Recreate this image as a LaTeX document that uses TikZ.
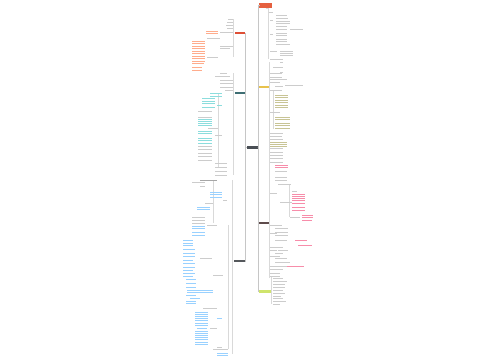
\documentclass[tikz,border=0pt]{standalone}
\usepackage{tikz}
\tikzset{>=stealth}
\definecolor{rootgray}{HTML}{4A4F55}
\definecolor{topred}{HTML}{E5603F}
\definecolor{branchred}{HTML}{DE4F36}
\definecolor{branchteal}{HTML}{3E6E73}
\definecolor{branchdark}{HTML}{55585C}
\definecolor{branchyellow}{HTML}{E8C24C}
\definecolor{branchbrown}{HTML}{5E4B4B}
\definecolor{branchlime}{HTML}{CFE46C}
\tikzset{
  mainbox/.style={rectangle, inner sep=0pt, minimum height=2.5pt},
  conn/.style={draw=gray!45, line width=0.4pt},
  spine/.style={draw=gray!30, line width=0.3pt},
  rowgray/.style={draw=gray!40, line width=0.7pt},
  rowred/.style={draw=red!45!orange!45, line width=0.7pt},
  rowteal/.style={draw=teal!60!cyan!45, line width=0.7pt},
  rowblue/.style={draw=blue!45!cyan!40, line width=0.7pt},
  rowmag/.style={draw=magenta!60!red!45, line width=0.7pt},
  rowolive/.style={draw=olive!50!gray!50, line width=0.7pt}
}

\begin{document}
\begin{tikzpicture}[x=1pt,y=-1pt]
\fill[white] (0,0) rectangle (500,360);
\useasboundingbox (0,0) rectangle (500,360);

% root and main branches
\node[mainbox, fill=rootgray, minimum width=11pt, minimum height=2.5pt] (root) at (252,147.5) {};
\node[mainbox, fill=topred, minimum width=13pt, minimum height=5pt] (rtitle) at (265.5,5.5) {};
\node[mainbox, fill=branchred, minimum width=10pt] (lred) at (239.5,33) {};
\node[mainbox, fill=branchteal, minimum width=10pt, minimum height=2pt] (lteal) at (239.5,92.5) {};
\node[mainbox, fill=branchdark, minimum width=11pt, minimum height=2pt] (ldark) at (239,261) {};
\node[mainbox, fill=branchyellow, minimum width=10pt] (ryellow) at (263.5,87) {};
\node[mainbox, fill=branchbrown, minimum width=10pt, minimum height=2pt] (rbrown) at (263.5,223) {};
\node[mainbox, fill=branchlime, minimum width=12pt, minimum height=3pt] (rlime) at (264.5,291) {};

% connectors from the root
\draw[conn] (root.west) -- ++(-0.8,0) |- (lred.east);
\draw[conn] (root.west) -- ++(-0.8,0) |- (lteal.east);
\draw[conn] (root.west) -- ++(-0.8,0) |- (ldark.east);
\draw[conn] (root.east) -- ++(0.8,0) |- (rtitle.west);
\draw[conn] (root.east) -- ++(0.8,0) |- (ryellow.west);
\draw[conn] (root.east) -- ++(0.8,0) |- (rbrown.west);
\draw[conn] (root.east) -- ++(0.8,0) |- (rlime.west);

% spines of the sub branches
\draw[spine] (lred.west) -- ++(-1,0) coordinate (lredk);
\draw[spine] (lredk |- 0,19) -- (lredk |- 0,57);
\draw[spine] (lteal.west) -- ++(-1,0) coordinate (ltealk);
\draw[spine] (ltealk |- 0,73) -- (ltealk |- 0,175);
\draw[spine] (ldark.west) -- ++(-1,0) coordinate (ldarkk);
\draw[spine] (ldarkk |- 0,180) -- (ldarkk |- 0,354);
\draw[spine] (rtitle.south) -- ++(3,0) coordinate (rtitlek);
\draw[spine] (rtitlek) -- (rtitlek |- 0,59);
\draw[spine] (ryellow.east) -- ++(0.5,0) coordinate (ryellowk);
\draw[spine] (ryellowk |- 0,62) -- (ryellowk |- 0,168);
\draw[spine] (rbrown.east) -- ++(0.5,0) coordinate (rbrownk);
\draw[spine] (rbrownk |- 0,167) -- (rbrownk |- 0,278);
\draw[spine] (rlime.east) -- ++(0.8,0) coordinate (rlimek);
\draw[spine] (rlimek |- 0,276) -- (rlimek |- 0,304);
\draw[spine] (218.5,93) -- (218.5,167);
\draw[spine] (213.5,180) -- (213.5,223);
\draw[spine] (228.5,225) -- (228.5,349);
\draw[spine] (289.5,184) -- (289.5,217);
\draw[spine] (273.5,90) -- (273.5,129);

% rows of small text (left, red branch)
\foreach \x/\y/\w in {228/19/5, 227/22/6, 226/25/7, 227/28/6, 220/32.5/13, 207/38/13, 220/46/13, 220/48.5/10, 207/57/11}
  \draw[rowgray] (\x,\y) -- ++(\w,0);
\foreach \x/\y/\w in {206/31/12, 206/33.5/12, 192/41/13, 192/43.5/13, 192/46/13, 192/48.5/13, 192/51/13, 192/53.5/13, 192/56/13, 192/58.5/13, 192/61/13, 192/63.5/12, 192/67/10, 192/70/10}
  \draw[rowred] (\x,\y) -- ++(\w,0);

% rows of small text (left, teal branch)
\foreach \x/\y/\w in {220/73/7, 215/76/15, 220/80/13, 220/83/13, 220/87/13, 225/90/8, 198/111/14, 198/117/14, 208/128/10, 215/135/7, 198/146/14, 198/149/14, 198/153/14, 198/156/14, 198/160/14, 215/163/12, 215/167/12, 215/171/12, 215/175/12}
  \draw[rowgray] (\x,\y) -- ++(\w,0);
\foreach \x/\y/\w in {210/93.5/12, 210/96/12, 202/98.5/13, 202/101/13, 202/103.5/13, 217/105/5, 202/107/13, 198/119.5/14, 198/121.5/14, 198/123.5/14, 198/125.5/14, 198/131/14, 198/133.5/14, 198/138/14, 198/140.5/14, 198/143/14}
  \draw[rowteal] (\x,\y) -- ++(\w,0);

% rows of small text (left, dark branch)
\draw[rowgray, draw=gray!70] (200,180) -- ++(17,0);
\foreach \x/\y/\w in {192/182.5/13, 200/186/5, 223/200/4, 205/203/8, 192/217/13, 192/220/13, 192/223/13, 207/225/10, 200/258/12, 213/275/10, 203/308/14, 210/328/7, 217/347/5, 213/349/15}
  \draw[rowgray] (\x,\y) -- ++(\w,0);
\foreach \x/\y/\w in {210/192/12, 210/194.5/12, 210/197/12, 197/207/13, 197/209.5/13, 192/226/13, 192/228.5/13, 192/232/13, 192/235/13, 183/240/10, 183/243/10, 183/245.5/10, 183/249/12, 183/253/12, 183/256.5/12, 183/260/10, 183/263/12, 183/267/12, 183/270/10, 183/273/12, 183/276/10, 186/279.5/10, 186/283/10, 186/287/10, 187/290/13, 200/290/13, 187/292.5/13, 200/292.5/13, 186/295.5/10, 190/298.5/10, 186/301/10, 186/303.5/10, 195/312/13, 195/314/13, 195/316/13, 195/318/13, 217/318/5, 195/320.5/13, 195/323/13, 195/325.5/13, 197/328/10, 195/331/13, 195/333/13, 195/335/13, 195/337/13, 195/339.5/13, 195/342/13, 195/344.5/13, 217/353/11, 217/355.5/11}
  \draw[rowblue] (\x,\y) -- ++(\w,0);

% rows of small text (right, title branch)
\foreach \x/\y/\w in {269/12/4, 276/15/11, 276/18/12, 270/20/3, 276/21/14, 276/23.5/14, 276/26/11, 276/29/11, 290/29/13, 270/34/3, 276/33/11, 276/35.5/11, 276/39/11, 276/41.5/11, 276/44.5/14, 270/51/7, 280/51/13, 280/53/13, 280/55/13, 270/59/13}
  \draw[rowgray] (\x,\y) -- ++(\w,0);

% rows of small text (right, yellow branch)
\foreach \x/\y/\w in {280/62/3, 273/67/10, 280/72/3, 270/73/12, 270/77/12, 270/79.5/17, 270/82/10, 275/86/8, 285/85/18, 270/90/12, 270/112/10, 270/133/13, 270/136/12, 270/139/13, 270/148/13, 270/152/13, 270/155/13, 270/158/13, 270/162/13}
  \draw[rowgray] (\x,\y) -- ++(\w,0);
\foreach \x/\y/\w in {275/95/13, 275/97.5/13, 275/100/13, 275/102.5/13, 275/105/13, 275/107.5/13, 275/117/15, 275/119.5/15, 275/123/15, 275/125.5/15, 275/128/15, 270/142/17, 270/144/17, 270/146/17}
  \draw[rowolive] (\x,\y) -- ++(\w,0);
\foreach \x/\y/\w in {275/165/13, 275/167.5/13}
  \draw[rowmag] (\x,\y) -- ++(\w,0);

% rows of small text (right, brown branch)
\foreach \x/\y/\w in {275/171/12, 275/177/12, 275/180/12, 278/184/13, 270/193/7, 292/191/5, 280/202/12, 290/217/10, 270/225/12, 275/228/13, 275/232/13, 270/233/7, 275/235/13, 275/240/12, 270/247/13, 270/250/7, 278/250/10, 275/253/8, 270/256/10, 275/258.5/12, 275/262/15, 270/266/17, 270/269/13, 270/273/10, 273/278/10}
  \draw[rowgray] (\x,\y) -- ++(\w,0);
\foreach \x/\y/\w in {292/194/13, 292/196/13, 292/198/13, 292/200.5/13, 292/203/13, 292/207/13, 292/210/13, 302/215/11, 302/217.5/11, 302/220/10, 295/240/12, 298/245/14, 287/266/17}
  \draw[rowmag] (\x,\y) -- ++(\w,0);

% rows of small text (right, lime branch)
\foreach \x/\y/\w in {270/276/10, 273/281/14, 273/284/12, 273/287/12, 273/290/10, 273/293/12, 273/296/8, 273/298.5/10, 273/301/13, 273/304/7}
  \draw[rowgray] (\x,\y) -- ++(\w,0);
\end{tikzpicture}
\end{document}
